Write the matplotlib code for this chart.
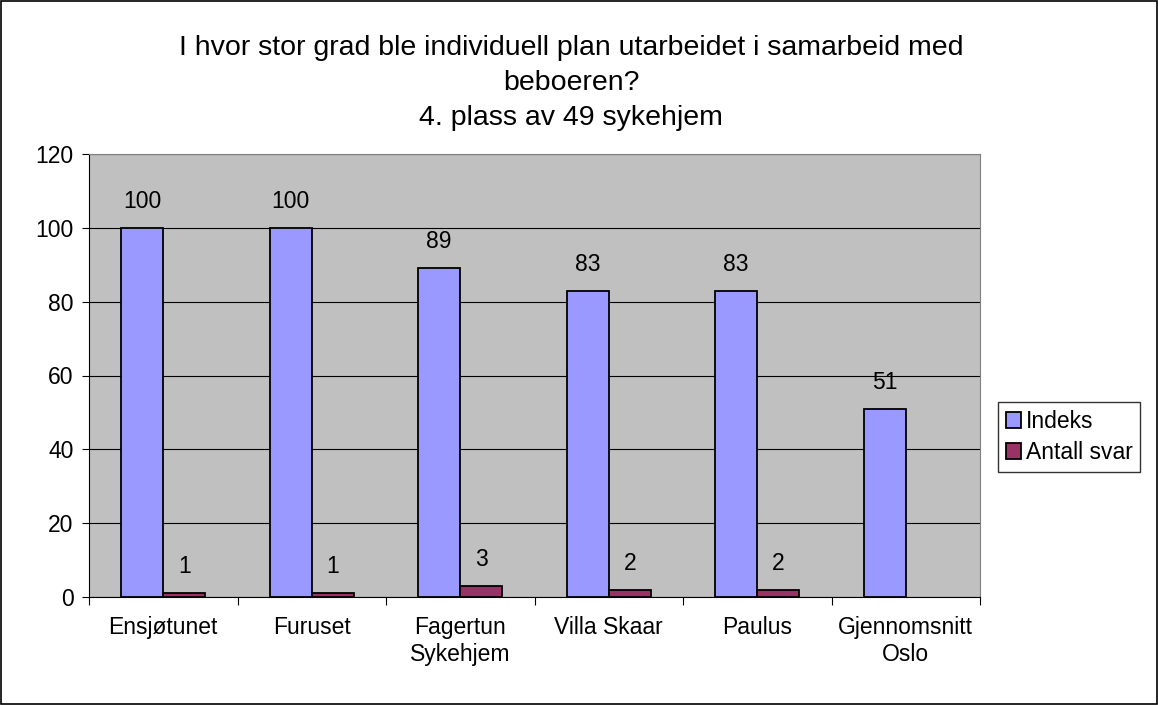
import numpy as np
import matplotlib.pyplot as plt
from matplotlib.patches import Rectangle

plt.rcParams['font.family'] = ['Liberation Sans', 'DejaVu Sans']

# data
categories = ["Ensjøtunet", "Furuset", "Fagertun\nSykehjem", "Villa Skaar", "Paulus", "Gjennomsnitt\nOslo"]
indeks = [100, 100, 89, 83, 83, 51]
antall_svar = [1, 1, 3, 2, 2, np.nan]
title_lines = [
    "I hvor stor grad ble individuell plan utarbeidet i samarbeid med",
    "beboeren?",
    "4. plass av 49 sykehjem",
]

FS = 16.5

fig = plt.figure(figsize=(11.58, 7.05), dpi=100)
ax = fig.add_axes([89 / 1158, 1 - 597 / 705, (980 - 89) / 1158, (597 - 154) / 705])
ax.set_facecolor("#C0C0C0")

x = np.arange(len(categories))
w = 0.283
b1 = ax.bar(x - w / 2, indeks, w, color="#9999FF", edgecolor="black", linewidth=1.3, label="Indeks", zorder=3)
b2 = ax.bar(x + w / 2, antall_svar, w, color="#993366", edgecolor="black", linewidth=1.3, label="Antall svar", zorder=3)

for xi, v in zip(x - w / 2, indeks):
    ax.text(xi, v + 7.2, f"{v}", ha="center", va="center", fontsize=FS)
for xi, v in zip(x + w / 2, antall_svar):
    if not np.isnan(v):
        ax.text(xi, v + 7.2, f"{int(v)}", ha="center", va="center", fontsize=FS)

ax.set_xlim(-0.5, len(categories) - 0.5)
ax.set_ylim(0, 120)
ax.set_yticks(range(0, 121, 20))
ax.yaxis.grid(True, color="black", linewidth=0.8, zorder=0)
ax.set_axisbelow(True)
ax.tick_params(axis="y", labelsize=FS, direction="out", length=5, pad=6, color="black")

ax.set_xticks(np.arange(len(categories) + 1) - 0.5)
ax.set_xticklabels([])
ax.set_xticks(x, minor=True)
ax.set_xticklabels(categories, minor=True, fontsize=FS)
ax.tick_params(axis="x", which="major", direction="out", length=6, color="black")
ax.tick_params(axis="x", which="minor", length=0, pad=14)

for s in ["top", "right"]:
    ax.spines[s].set_color("#808080")
for s in ["left", "bottom"]:
    ax.spines[s].set_color("black")

ys = [48, 83, 118]
for line, yp in zip(title_lines, ys):
    fig.text(571 / 1158, 1 - yp / 705, line, ha="center", va="center", fontsize=20.5)

leg = fig.legend(handles=[b1, b2], loc="upper left", bbox_to_anchor=(998 / 1158, 1 - 402 / 705),
                 fontsize=FS, frameon=True, fancybox=False, edgecolor="black",
                 handlelength=0.65, handleheight=0.65, handletextpad=0.2, borderpad=0.35,
                 labelspacing=0.35, borderaxespad=0)
leg.get_frame().set_linewidth(1)

fig.patches.append(Rectangle((0.001, 0.001), 0.998, 0.997, transform=fig.transFigure,
                             fill=False, edgecolor="black", linewidth=1.2))

plt.savefig("out.png", dpi=100)
